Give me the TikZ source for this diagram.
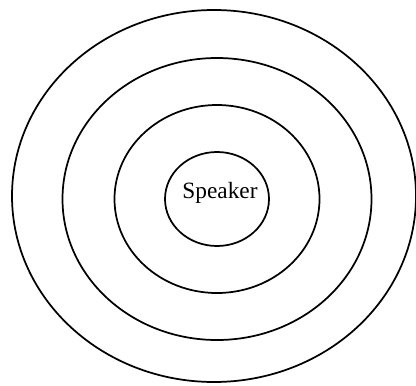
\documentclass[tikz,border=0pt]{standalone}
\usepackage{fontspec}
\setmainfont{Liberation Serif}
\usepackage{tikz}
\tikzset{
  ring/.style={draw=black, line width=1.3pt},
  label/.style={font=\fontsize{17.5}{20}\selectfont, inner sep=0pt}
}

\begin{document}
\begin{tikzpicture}[x=0.75pt, y=-0.75pt]
  \useasboundingbox (0,0) rectangle (416,385);
  \clip (0,0) rectangle (416,385);
  \coordinate (center) at (217,199);
  \coordinate (outercenter) at (214,196);
  % rings
  \draw[ring] (center) ellipse [x radius=52, y radius=47];
  \draw[ring] (center) ellipse [x radius=102.5, y radius=94];
  \draw[ring] (center) ellipse [x radius=154.5, y radius=141];
  \draw[ring] (outercenter) ellipse [x radius=202, y radius=186];
  \node[label, anchor=base] (speaker) at (220,198) {Speaker};
\end{tikzpicture}
\end{document}
